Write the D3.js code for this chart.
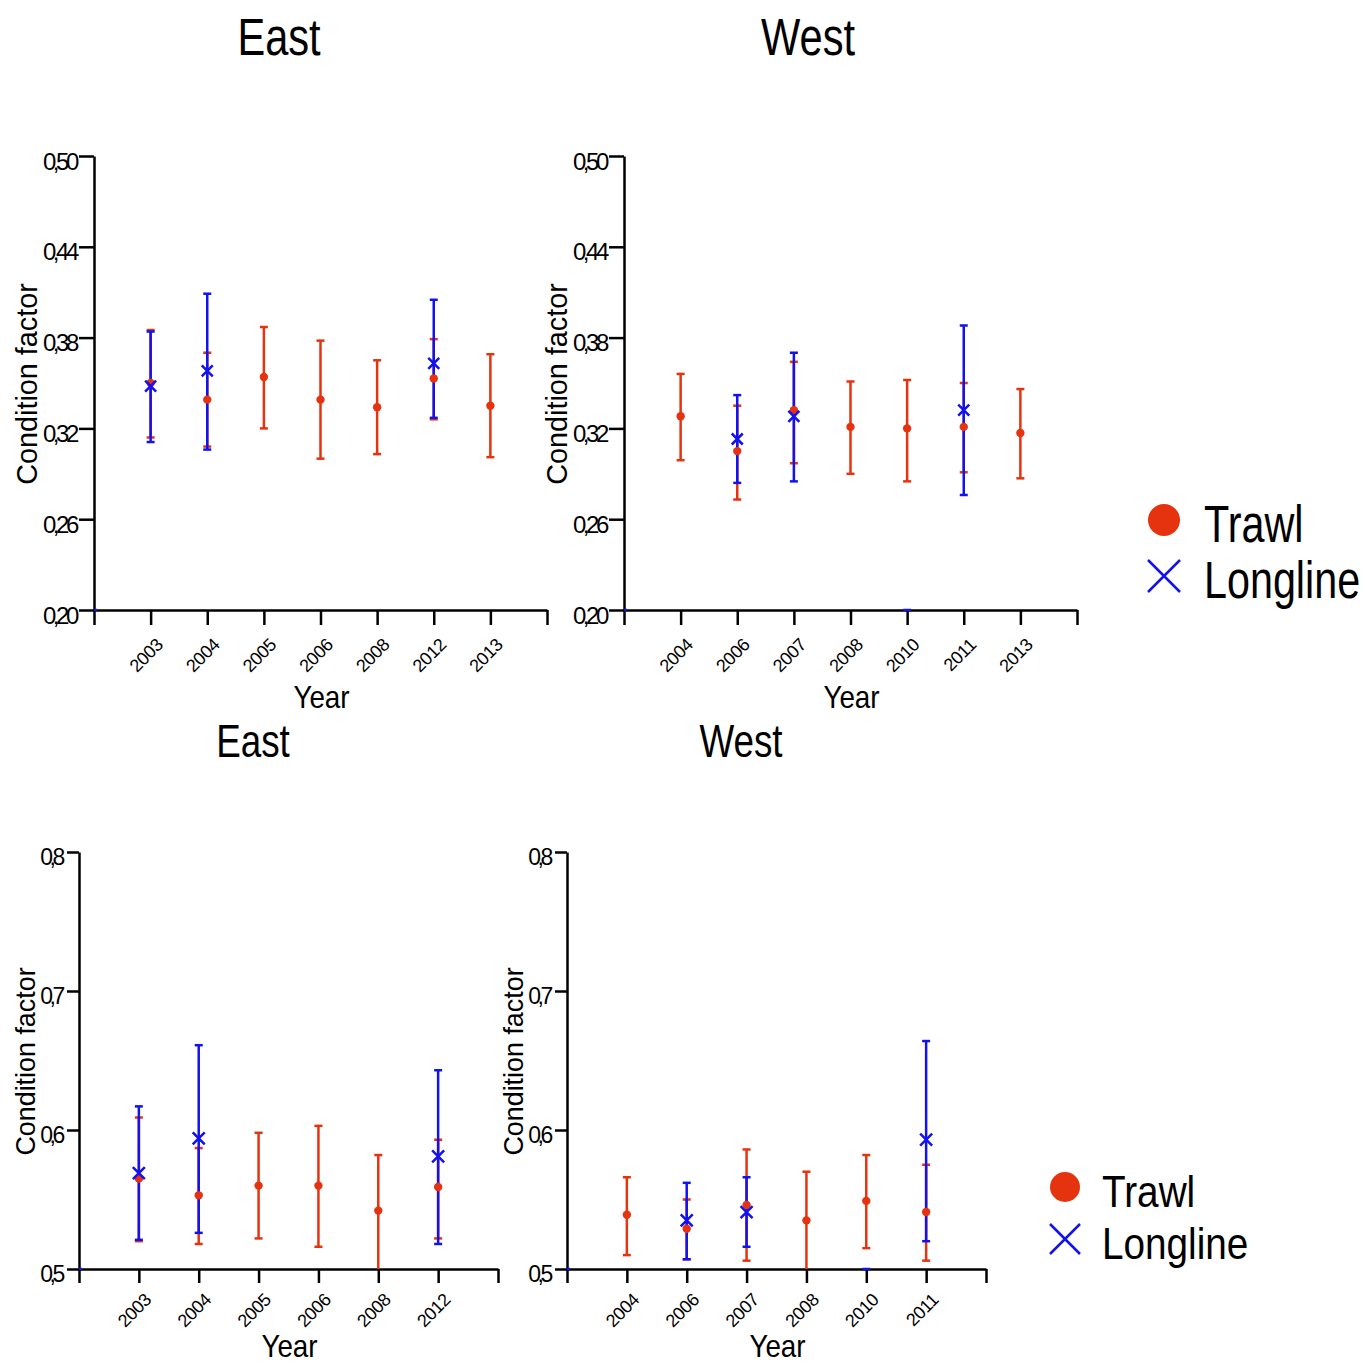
<!DOCTYPE html>
<html>
<head>
<meta charset="utf-8">
<script src="https://cdn.jsdelivr.net/npm/d3@7"></script>
<style>
  body { margin: 0; background: #fff; }
  svg { display: block; font-family: "Liberation Sans", Arial, sans-serif; }
</style>
</head>
<body>
<div id="chart"></div>
<script>
// ---- data ----
// Row 1 (y axis 0,20 - 0,50)
const years1East = ["2003", "2004", "2005", "2006", "2008", "2012", "2013"];
const trawl1EastMean = [0.350, 0.339, 0.354, 0.339, 0.334, 0.353, 0.335];
const trawl1EastLow  = [0.314, 0.308, 0.320, 0.300, 0.303, 0.326, 0.301];
const trawl1EastHigh = [0.385, 0.370, 0.387, 0.378, 0.365, 0.379, 0.369];
const long1EastYears = ["2003", "2004", "2012"];
const long1EastMean  = [0.348, 0.358, 0.363];
const long1EastLow   = [0.311, 0.306, 0.327];
const long1EastHigh  = [0.384, 0.409, 0.405];

const years1West = ["2004", "2006", "2007", "2008", "2010", "2011", "2013"];
const trawl1WestMean = [0.328, 0.305, 0.332, 0.321, 0.320, 0.321, 0.317];
const trawl1WestLow  = [0.299, 0.273, 0.297, 0.290, 0.285, 0.291, 0.287];
const trawl1WestHigh = [0.356, 0.335, 0.364, 0.351, 0.352, 0.350, 0.346];
const long1WestYears = ["2006", "2007", "2011"];
const long1WestMean  = [0.313, 0.328, 0.332];
const long1WestLow   = [0.284, 0.285, 0.276];
const long1WestHigh  = [0.342, 0.370, 0.388];

// Row 2 (y axis 0,5 - 0,8)
const years2East = ["2003", "2004", "2005", "2006", "2008", "2012"];
const trawl2EastMean = [0.565, 0.553, 0.560, 0.560, 0.542, 0.559];
const trawl2EastLow  = [0.520, 0.518, 0.522, 0.516, 0.499, 0.522];
const trawl2EastHigh = [0.609, 0.587, 0.598, 0.603, 0.582, 0.593];
const long2EastYears = ["2003", "2004", "2012"];
const long2EastMean  = [0.569, 0.594, 0.581];
const long2EastLow   = [0.521, 0.526, 0.518];
const long2EastHigh  = [0.617, 0.661, 0.643];

const years2West = ["2004", "2006", "2007", "2008", "2010", "2011"];
const trawl2WestMean = [0.539, 0.529, 0.546, 0.535, 0.549, 0.541];
const trawl2WestLow  = [0.510, 0.507, 0.506, 0.499, 0.515, 0.506];
const trawl2WestHigh = [0.566, 0.550, 0.586, 0.570, 0.582, 0.575];
const long2WestYears = ["2006", "2007", "2011"];
const long2WestMean  = [0.535, 0.541, 0.593];
const long2WestLow   = [0.507, 0.516, 0.520];
const long2WestHigh  = [0.562, 0.566, 0.664];

// longline years with no visible estimate (only a mark left on the baseline)
const longWestEmpty = ["2010"];

const yTicks1 = [0.20, 0.26, 0.32, 0.38, 0.44, 0.50];
const yTicks2 = [0.5, 0.6, 0.7, 0.8];

const seriesNames = ["Trawl", "Longline"];
const red = "#e6330f", blue = "#1212ee";

const width = 1370, height = 1363;

const svg = d3.select("#chart").append("svg")
  .attr("width", width)
  .attr("height", height);

// condensed type: place a text at (x, y), optionally rotated, squeezed along its run
function condensed(parent, str, x, y, size, factor, opts = {}) {
  return parent.append("text")
    .attr("transform", `translate(${x},${y})${opts.rotate ? ` rotate(${opts.rotate})` : ""} scale(${factor},1)`)
    .attr("text-anchor", opts.anchor || "start")
    .style("font-size", size + "px")
    .text(str);
}

const zip = (years, mean, low, high) =>
  years.map((y, i) => ({ year: y, mean: mean[i], low: low[i], high: high[i] }));

const panels = [
  { title: "East", x0: 94, x1: 547, yTop: 156, yBot: 610, domain: [0.20, 0.50], ticks: yTicks1,
    fmt: d => d.toFixed(2).replace(".", ","), years: years1East,
    trawl: zip(years1East, trawl1EastMean, trawl1EastLow, trawl1EastHigh),
    longline: zip(long1EastYears, long1EastMean, long1EastLow, long1EastHigh), empty: [],
    big: true, titleX: 279, titleY: 55 },
  { title: "West", x0: 624, x1: 1077, yTop: 156, yBot: 610, domain: [0.20, 0.50], ticks: yTicks1,
    fmt: d => d.toFixed(2).replace(".", ","), years: years1West,
    trawl: zip(years1West, trawl1WestMean, trawl1WestLow, trawl1WestHigh),
    longline: zip(long1WestYears, long1WestMean, long1WestLow, long1WestHigh), empty: longWestEmpty,
    big: true, titleX: 808, titleY: 55 },
  { title: "East", x0: 79, x1: 498, yTop: 852, yBot: 1269, domain: [0.5, 0.8], ticks: yTicks2,
    fmt: d => d.toFixed(1).replace(".", ","), years: years2East,
    trawl: zip(years2East, trawl2EastMean, trawl2EastLow, trawl2EastHigh),
    longline: zip(long2EastYears, long2EastMean, long2EastLow, long2EastHigh), empty: [],
    big: false, titleX: 253, titleY: 757 },
  { title: "West", x0: 567, x1: 986, yTop: 852, yBot: 1269, domain: [0.5, 0.8], ticks: yTicks2,
    fmt: d => d.toFixed(1).replace(".", ","), years: years2West,
    trawl: zip(years2West, trawl2WestMean, trawl2WestLow, trawl2WestHigh),
    longline: zip(long2WestYears, long2WestMean, long2WestLow, long2WestHigh), empty: longWestEmpty,
    big: false, titleX: 741, titleY: 757 }
];

panels.forEach(p => {
  const g = svg.append("g");

  // categories sit between an empty slot at each end
  const x = d3.scalePoint()
    .domain(["_start", ...p.years, "_end"])
    .range([p.x0, p.x1]);

  const y = d3.scaleLinear()
    .domain(p.domain)
    .range([p.yBot, p.yTop])
    .clamp(true);

  // title
  condensed(g, p.title, p.titleX, p.titleY, p.big ? 52 : 46, 0.8, { anchor: "middle" });

  // y axis
  const yAxis = g.append("g")
    .attr("transform", `translate(${p.x0},0)`)
    .call(d3.axisLeft(y).tickValues(p.ticks).tickFormat(p.fmt)
      .tickSize(p.big ? 15 : 12).tickSizeOuter(0).tickPadding(p.big ? 3 : 5));
  yAxis.select(".domain").attr("stroke-width", 2.5);
  yAxis.selectAll(".tick line").attr("stroke-width", 2.5);
  yAxis.selectAll(".tick text")
    .attr("dy", p.big ? 13 : 12)
    .style("font-size", p.big ? "24px" : "23px")
    .style("letter-spacing", "-3.4px")
    .attr("fill", "#000");

  // x axis
  const xAxis = g.append("g")
    .attr("transform", `translate(0,${p.yBot})`)
    .call(d3.axisBottom(x).tickSize(p.big ? 15 : 14).tickSizeOuter(0)
      .tickFormat(d => d.startsWith("_") ? "" : d));
  xAxis.select(".domain").attr("stroke-width", 2.5);
  xAxis.selectAll(".tick line").attr("stroke-width", 2.5);
  xAxis.selectAll(".tick text")
    .attr("text-anchor", "end")
    .attr("y", 0)
    .attr("dy", 0)
    .attr("transform", `translate(13,${p.big ? 36 : 32}) rotate(-45)`)
    .style("font-size", "18px")
    .style("letter-spacing", "-0.4px")
    .attr("fill", "#000");

  // axis titles
  condensed(g, "Condition factor", p.x0 - (p.big ? 57 : 44), (p.yTop + p.yBot) / 2 + 1,
    p.big ? 30 : 28, 0.96, { anchor: "middle", rotate: -90 });

  condensed(g, "Year", (p.x0 + p.x1) / 2 + 1, p.yBot + (p.big ? 98 : 88), 32, 0.87, { anchor: "middle" });

  // error bars
  const capW = 4;
  const drawBars = (data, color) => {
    const bars = g.append("g")
      .attr("stroke", color)
      .attr("stroke-width", 2.5)
      .selectAll("g")
      .data(data)
      .join("g");
    bars.append("line")
      .attr("x1", d => x(d.year)).attr("x2", d => x(d.year))
      .attr("y1", d => y(d.low)).attr("y2", d => y(d.high));
    bars.append("line")
      .attr("x1", d => x(d.year) - capW).attr("x2", d => x(d.year) + capW)
      .attr("y1", d => y(d.high)).attr("y2", d => y(d.high));
    bars.filter(d => d.low >= p.domain[0]).append("line")
      .attr("x1", d => x(d.year) - capW).attr("x2", d => x(d.year) + capW)
      .attr("y1", d => y(d.low)).attr("y2", d => y(d.low));
  };
  drawBars(p.trawl, red);
  drawBars(p.longline, blue);

  // leftover longline marks on the baseline
  g.append("g")
    .attr("stroke", blue)
    .attr("stroke-width", 2.5)
    .selectAll("line")
    .data(["_start", ...p.empty])
    .join("line")
    .attr("x1", d => x(d) - (d === "_start" ? 0 : capW))
    .attr("x2", d => x(d) + (d === "_start" ? 3 : capW))
    .attr("y1", y(p.domain[0]))
    .attr("y2", y(p.domain[0]));

  // points
  g.append("g")
    .selectAll("circle")
    .data(p.trawl)
    .join("circle")
    .attr("cx", d => x(d.year))
    .attr("cy", d => y(d.mean))
    .attr("r", 4.2)
    .attr("fill", red);

  const xs = p.big ? 5.5 : 6;
  g.append("g")
    .attr("stroke", blue)
    .attr("stroke-width", 2.5)
    .selectAll("path")
    .data(p.longline)
    .join("path")
    .attr("d", d => {
      const cx = x(d.year), cy = y(d.mean);
      return `M${cx - xs},${cy - xs}L${cx + xs},${cy + xs}M${cx - xs},${cy + xs}L${cx + xs},${cy - xs}`;
    });
});

// legends
const legends = [
  { x: 1164, y: 520, gap: 56, r: 16, size: 51, textX: 1204, dy: 22, squeeze: 0.81 },
  { x: 1065, y: 1187, gap: 52, r: 15, size: 44, textX: 1102, dy: 20, squeeze: 0.88 }
];

legends.forEach(l => {
  const lg = svg.append("g");
  seriesNames.forEach((name, i) => {
    const cy = l.y + i * l.gap;
    if (name === "Trawl") {
      lg.append("circle")
        .attr("cx", l.x).attr("cy", cy).attr("r", l.r)
        .attr("fill", red);
    } else {
      const h = l.r;
      lg.append("path")
        .attr("d", `M${l.x - h},${cy - h}L${l.x + h},${cy + h}M${l.x - h},${cy + h}L${l.x + h},${cy - h}`)
        .attr("stroke", blue)
        .attr("stroke-width", 2.5)
        .attr("fill", "none");
    }
    condensed(lg, name, l.textX, cy + l.dy, l.size, l.squeeze);
  });
});
</script>
</body>
</html>
